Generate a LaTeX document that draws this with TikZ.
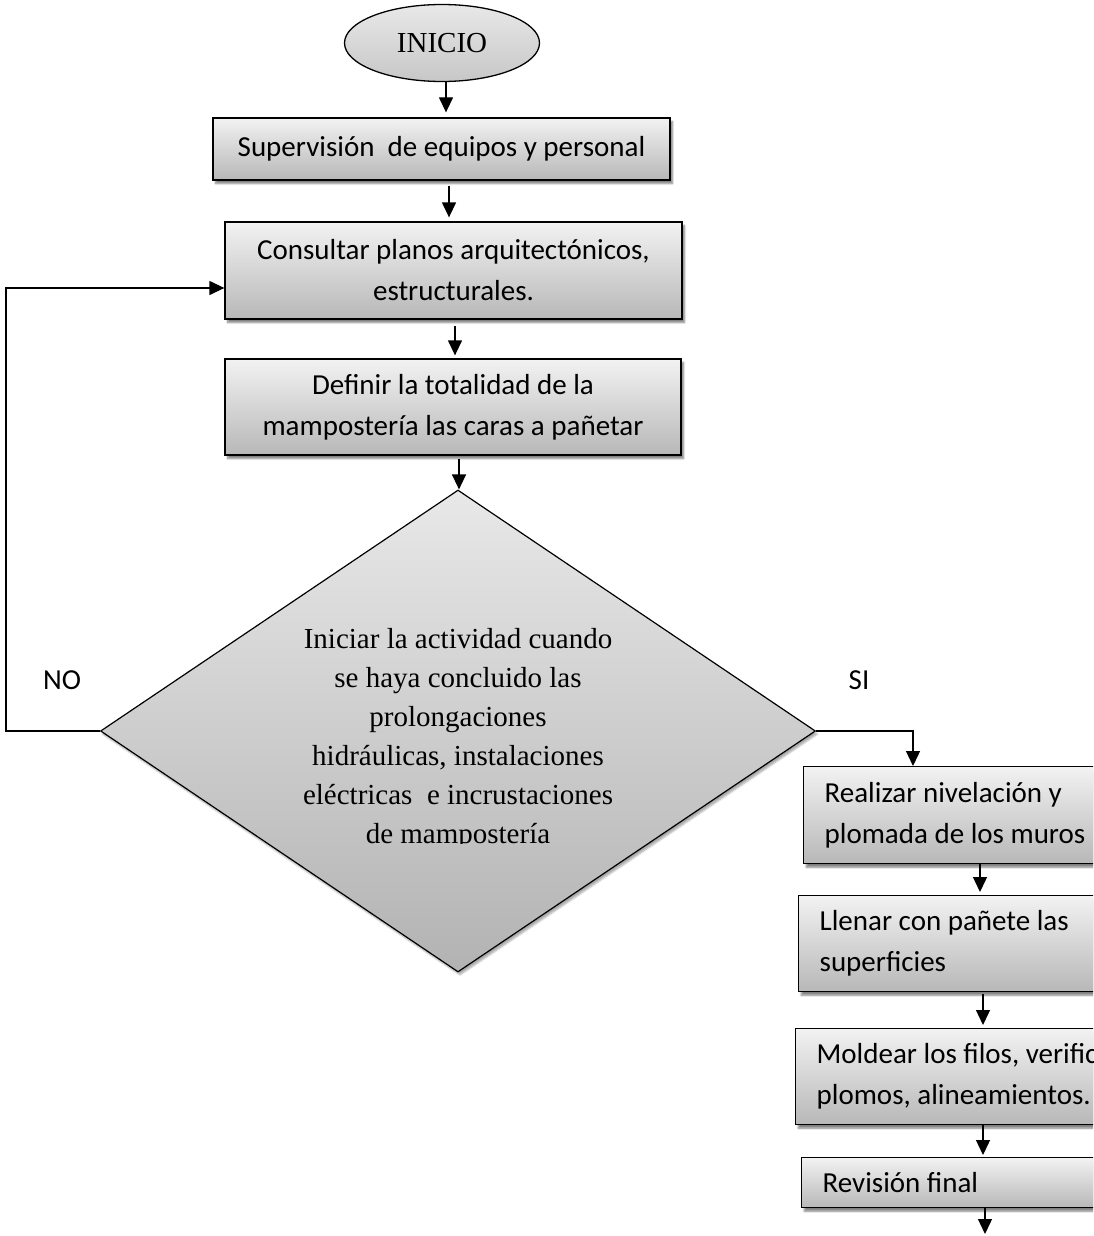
\documentclass[tikz,border=0pt]{standalone}
\usepackage{fontspec}
\setmainfont{Liberation Serif}
\newfontfamily\boxfont{Carlito}
\usetikzlibrary{shapes.geometric,arrows.meta,shadows.blur}
\begin{document}
\begin{tikzpicture}[x=1pt,y=-1pt,
  boxstyle/.style={draw=black, line width=1.3pt, top color=black!5, bottom color=black!28,
    blur shadow={shadow xshift=2.5pt, shadow yshift=-3.5pt, shadow blur steps=6, shadow opacity=50},
    font=\boxfont\fontsize{29pt}{41pt}\selectfont, inner sep=0pt},
  rightbox/.style={boxstyle, anchor=north west, text width=340pt, align=flush left, inner xsep=21pt, inner ysep=0pt},
  arr/.style={line width=1.3pt, -{Triangle[length=15pt,width=14pt]}},
  lbl/.style={font=\boxfont\fontsize{29pt}{35pt}\selectfont}]
\useasboundingbox (0,0) rectangle (1093,1236);
\clip (0,0) rectangle (1093,1236);

% start
\node[ellipse, draw=black, line width=1.3pt, top color=black!9, bottom color=black!22,
      minimum width=195pt, minimum height=77pt, inner sep=0pt,
      font=\fontsize{29pt}{35pt}\selectfont] (start) at (442,43) {INICIO};

% left column boxes
\node[boxstyle, minimum width=457pt, minimum height=62pt] (b1) at (441.5,149) {Supervisión\ \ de equipos y personal};
\node[boxstyle, minimum width=457pt, minimum height=97pt, align=center] (b2) at (453.5,270.5) {Consultar planos arquitectónicos,\\estructurales.};
\node[boxstyle, minimum width=456pt, minimum height=96pt, align=center] (b3) at (453,407) {Definir la totalidad de la\\mampostería las caras a pañetar};

% decision
\node[diamond, draw=black, line width=1.2pt, top color=black!9, bottom color=black!30,
      blur shadow={shadow xshift=2pt, shadow yshift=-3pt, shadow blur steps=5, shadow opacity=35},
      minimum width=715pt, minimum height=482pt, inner sep=0pt] (d) at (458,731) {};
\begin{scope}
\clip (280,612) rectangle (640,843);
\node[align=center, inner sep=0pt, font=\fontsize{29pt}{39pt}\selectfont] (dt) at (458,739)
  {Iniciar la actividad cuando\\se haya concluido las\\prolongaciones\\hidráulicas, instalaciones\\eléctricas\ \ e incrustaciones\\de mampostería};
\end{scope}

% right column boxes
\node[rightbox, minimum height=97pt] (b4) at (803,766) {Realizar nivelación y\\plomada de los muros};
\node[rightbox, minimum height=96pt] (b5) at (798,895) {Llenar con pañete las\\superficies};
\node[rightbox, minimum height=96pt] (b6) at (795,1028) {Moldear los filos, verific\\plomos, alineamientos.};
\node[rightbox, minimum height=50pt] (b7) at (801,1157) {Revisión final};

% labels
\node[lbl] (no) at (62,680) {NO};
\node[lbl] (si) at (859,680) {SI};

% connectors
\draw[arr] ([xshift=4pt]start.south) -- ([xshift=4pt,yshift=5pt]start.south |- b1.north);
\draw[arr] ([xshift=7.5pt,yshift=-5pt]b1.south) -- ([xshift=7.5pt,yshift=4pt]b1.south |- b2.north);
\draw[arr] ([xshift=1.5pt,yshift=-6pt]b2.south) -- ([xshift=1.5pt,yshift=3pt]b2.south |- b3.north);
\draw[arr] ([xshift=6pt,yshift=-3pt]b3.south) -- ([xshift=6pt]b3.south |- d.north);

\coordinate (noL) at (6,731);
\draw[arr] (d.west) -- (noL) |- ([yshift=-17.5pt]b2.west);

\coordinate (siR) at (913,731);
\draw[arr] (d.east) -- (siR) -- (siR |- b4.north);

\draw[arr] (b4.south -| 980,0) -- ([yshift=3pt]b5.north -| 980,0);
\draw[arr] ([yshift=-2pt]b5.south -| 983,0) -- ([yshift=3pt]b6.north -| 983,0);
\draw[arr] (b6.south -| 983,0) -- ([yshift=2pt]b7.north -| 983,0);
\coordinate (endpt) at (985,1234);
\draw[arr] (b7.south -| 985,0) -- (endpt);
\end{tikzpicture}
\end{document}
